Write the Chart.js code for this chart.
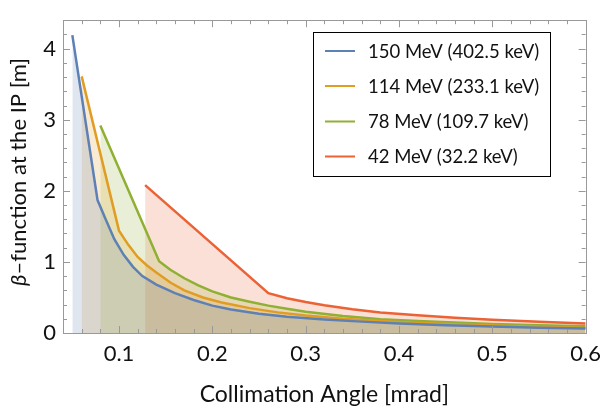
<!DOCTYPE html>
<html><head><meta charset="utf-8">
<script src="https://cdn.jsdelivr.net/npm/chart.js@4/dist/chart.umd.min.js"></script>
<style>html,body{margin:0;padding:0;background:#fff;}</style>
</head><body>
<canvas id="c" width="609" height="406" style="display:block;width:609px;height:406px"></canvas>
<script>
const FONT = 'Lato, "Open Sans", sans-serif';

const seriesLabels = ['150 MeV (402.5 keV)', '114 MeV (233.1 keV)', '78 MeV (109.7 keV)', '42 MeV (32.2 keV)'];
const seriesColors = ['#5E81B5', '#E19C24', '#8FB032', '#EB6235'];
const seriesFills  = ['rgba(94,129,181,0.2)', 'rgba(225,156,36,0.2)', 'rgba(143,176,50,0.2)', 'rgba(235,98,53,0.2)'];

const angle150 = [0.05, 0.077, 0.085, 0.095, 0.105, 0.115, 0.125, 0.14, 0.16, 0.18, 0.2, 0.22, 0.25, 0.28, 0.32, 0.36, 0.4, 0.45, 0.5, 0.55, 0.6];
const beta150  = [4.19, 1.87, 1.62, 1.32, 1.10, 0.93, 0.80, 0.68, 0.56, 0.465, 0.385, 0.33, 0.27, 0.23, 0.19, 0.16, 0.135, 0.11, 0.09, 0.075, 0.062];

const angle114 = [0.06, 0.1, 0.11, 0.12, 0.13, 0.14, 0.155, 0.17, 0.19, 0.21, 0.24, 0.27, 0.3, 0.34, 0.38, 0.42, 0.46, 0.5, 0.55, 0.6];
const beta114  = [3.61, 1.44, 1.24, 1.07, 0.95, 0.85, 0.71, 0.60, 0.50, 0.43, 0.35, 0.29, 0.245, 0.20, 0.168, 0.142, 0.122, 0.105, 0.087, 0.07];

const angle78 = [0.08, 0.143, 0.155, 0.17, 0.185, 0.2, 0.22, 0.24, 0.26, 0.28, 0.3, 0.34, 0.38, 0.42, 0.46, 0.5, 0.55, 0.6];
const beta78  = [2.92, 1.01, 0.89, 0.77, 0.67, 0.585, 0.50, 0.44, 0.385, 0.34, 0.30, 0.24, 0.195, 0.168, 0.146, 0.128, 0.11, 0.095];

const angle42 = [0.128, 0.26, 0.28, 0.3, 0.32, 0.35, 0.38, 0.42, 0.46, 0.5, 0.55, 0.6];
const beta42  = [2.08, 0.56, 0.49, 0.435, 0.39, 0.335, 0.29, 0.25, 0.215, 0.185, 0.158, 0.135];

const xTickLabels = [0.1, 0.2, 0.3, 0.4, 0.5, 0.6];
const yTickLabels = [0, 1, 2, 3, 4];
const xTitle = 'Collimation Angle [mrad]';
const yTitleSymbol = 'β';
const yTitleRest = '–function at the IP [m]';

const angles = [angle150, angle114, angle78, angle42];
const betas = [beta150, beta114, beta78, beta42];

const datasets = seriesLabels.map((lab, i) => ({
  label: lab,
  data: angles[i].map((a, j) => ({x: a, y: betas[i][j]})),
  borderColor: seriesColors[i],
  backgroundColor: seriesFills[i],
  borderWidth: 2.5,
  pointRadius: 0,
  tension: 0,
  fill: 'origin'
}));

const FRAME = '#999999';

const framePlugin = {
  id: 'frame',
  afterDatasetsDraw(chart) {
    const ctx = chart.ctx, a = chart.chartArea;
    const xs = chart.scales.x, ys = chart.scales.y;
    ctx.save();
    ctx.strokeStyle = FRAME;
    ctx.lineWidth = 1;
    ctx.beginPath();
    for (let k = 2; k <= 30; k++) {
      const v = k * 0.02;
      const px = Math.round(xs.getPixelForValue(v)) + 0.5;
      if (px < a.left || px > a.right + 1) continue;
      const major = (k % 5 === 0);
      const len = major ? 7 : 4;
      ctx.moveTo(px, a.bottom); ctx.lineTo(px, a.bottom - len);
      ctx.moveTo(px, a.top); ctx.lineTo(px, a.top + len);
    }
    for (let k = 0; k <= 22; k++) {
      const v = k * 0.2;
      const py = Math.round(ys.getPixelForValue(v)) + 0.5;
      const major = (k % 5 === 0);
      const len = major ? 7 : 4;
      ctx.moveTo(a.left, py); ctx.lineTo(a.left + len, py);
      ctx.moveTo(a.right, py); ctx.lineTo(a.right - len, py);
    }
    ctx.stroke();
    ctx.strokeRect(Math.round(a.left) + 0.5, Math.round(a.top) + 0.5, Math.round(a.right - a.left), Math.round(a.bottom - a.top));
    ctx.restore();
  },
  afterDraw(chart) {
    const ctx = chart.ctx;
    ctx.save();
    ctx.fillStyle = '#111';
    ctx.textBaseline = 'middle';
    const fsz = 22;
    ctx.font = 'italic ' + fsz + 'px ' + FONT;
    const w1 = ctx.measureText(yTitleSymbol).width;
    ctx.font = fsz + 'px ' + FONT;
    const w2 = ctx.measureText(yTitleRest).width;
    ctx.translate(19, 172);
    ctx.rotate(-Math.PI / 2);
    const start = -(w1 + w2) / 2;
    ctx.textAlign = 'left';
    ctx.font = 'italic ' + fsz + 'px ' + FONT;
    ctx.fillText(yTitleSymbol, start, 0);
    ctx.font = fsz + 'px ' + FONT;
    ctx.fillText(yTitleRest, start + w1, 0);
    ctx.restore();

    ctx.save();
    const bx = 313.5, by = 32.5, bw = 237, bh = 144;
    ctx.fillStyle = '#fff';
    ctx.fillRect(bx, by, bw, bh);
    ctx.strokeStyle = '#000';
    ctx.lineWidth = 1;
    ctx.strokeRect(bx, by, bw, bh);
    const rows = [51, 86, 121.5, 156.5];
    ctx.font = '18.5px ' + FONT;
    ctx.textBaseline = 'middle';
    ctx.textAlign = 'left';
    chart.data.datasets.forEach((ds, i) => {
      ctx.strokeStyle = ds.borderColor;
      ctx.lineWidth = 2;
      ctx.beginPath();
      ctx.moveTo(325, rows[i]); ctx.lineTo(355, rows[i]);
      ctx.stroke();
      ctx.fillStyle = '#111';
      ctx.fillText(ds.label, 368, rows[i] + 1);
    });
    ctx.restore();
  }
};

new Chart(document.getElementById('c'), {
  type: 'line',
  data: { datasets },
  options: {
    responsive: false,
    devicePixelRatio: 1,
    animation: false,
    layout: { padding: { top: 7, right: 17, left: 0, bottom: 0 } },
    plugins: {
      legend: { display: false },
      tooltip: { enabled: false },
      filler: { drawTime: 'beforeDatasetsDraw' }
    },
    scales: {
      x: {
        type: 'linear', min: 0.04, max: 0.6,
        afterBuildTicks: s => { s.ticks = xTickLabels.map(v => ({value: v})); },
        afterFit: s => { s.height = 73; },
        grid: { display: false, drawTicks: false },
        border: { display: false },
        ticks: { padding: 8, color: '#111', font: { family: FONT, size: 22 }, callback: v => v.toFixed(1), maxRotation: 0, autoSkip: false },
        title: { display: true, text: xTitle, color: '#111', font: { family: FONT, size: 23 }, padding: { top: 0, bottom: -2 } }
      },
      y: {
        type: 'linear', min: 0, max: 4.4,
        afterBuildTicks: s => { s.ticks = yTickLabels.map(v => ({value: v})); },
        afterFit: s => { s.width = 63; },
        grid: { display: false, drawTicks: false },
        border: { display: false },
        ticks: { padding: 7, color: '#111', font: { family: FONT, size: 22 }, callback: v => String(v), autoSkip: false }
      }
    }
  },
  plugins: [framePlugin]
});
</script>
</body></html>
